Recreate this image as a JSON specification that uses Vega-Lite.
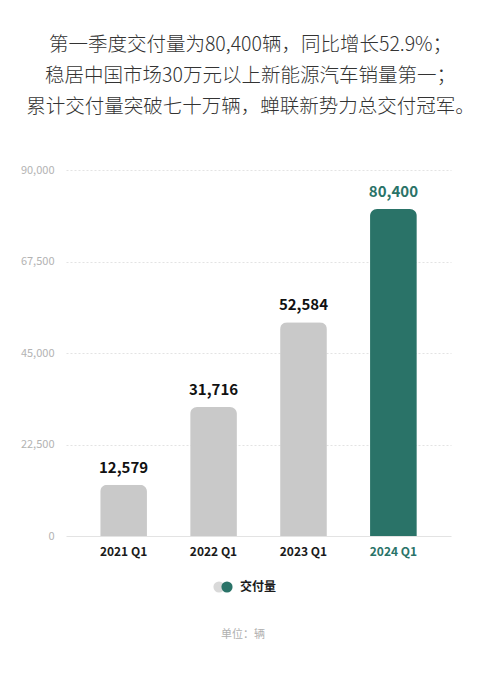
{
  "$schema": "https://vega.github.io/schema/vega-lite/v6.json",
  "width": 385,
  "height": 366,
  "padding": {"left": 20, "top": 34, "right": 27, "bottom": 20},
  "background": "white",
  "config": {
    "font": "Noto Sans CJK SC",
    "view": {"stroke": null}
  },
  "title": {
    "text": ["第一季度交付量为80,400辆，同比增长52.9%；", "稳居中国市场30万元以上新能源汽车销量第一；", "累计交付量突破七十万辆，蝉联新势力总交付冠军。"],
    "fontSize": 19.5,
    "fontWeight": 300,
    "lineHeight": 31,
    "color": "#333333",
    "anchor": "middle",
    "dx": -8,
    "offset": 47
  },
  "data": {
    "values": [
      {"quarter": "2021 Q1", "deliveries": 12579, "series": "交付量", "history": "往年"},
      {"quarter": "2022 Q1", "deliveries": 31716, "series": "交付量", "history": "往年"},
      {"quarter": "2023 Q1", "deliveries": 52584, "series": "交付量", "history": "往年"},
      {"quarter": "2024 Q1", "deliveries": 80400, "series": "交付量", "history": "往年"}
    ]
  },
  "encoding": {
    "x": {
      "field": "quarter",
      "type": "nominal",
      "sort": null,
      "scale": {"paddingInner": 0.48, "paddingOuter": 0.38},
      "axis": {
        "title": null,
        "domain": false,
        "ticks": false,
        "labelAngle": 0,
        "labelPadding": 10,
        "labelFontSize": 12,
        "labelFontWeight": "bold",
        "labelColor": {"condition": {"test": "datum.value === '2024 Q1'", "value": "#2a7368"}, "value": "#1a1a1a"}
      }
    },
    "y": {
      "field": "deliveries",
      "type": "quantitative",
      "scale": {"domain": [0, 90000]},
      "axis": {
        "title": null,
        "values": [0, 22500, 45000, 67500, 90000],
        "format": ",d",
        "domain": false,
        "ticks": false,
        "labelPadding": 12,
        "labelFontSize": 11,
        "labelColor": "#b3b3b3",
        "gridColor": "#e3e3e3",
        "gridDash": {"condition": {"test": "datum.value === 0", "value": []}, "value": [2, 2]},
        "gridWidth": 1
      }
    }
  },
  "resolve": {"scale": {"color": "independent"}, "legend": {"color": "independent"}},
  "layer": [
    {
      "mark": {"type": "bar", "cornerRadiusTopLeft": 7, "cornerRadiusTopRight": 7},
      "encoding": {
        "color": {"condition": {"test": "datum.quarter === '2024 Q1'", "value": "#2a7368"}, "value": "#c9c9c9"}
      }
    },
    {
      "mark": {"type": "text", "baseline": "bottom", "dy": -9, "fontSize": 15, "fontWeight": "bold"},
      "encoding": {
        "text": {"field": "deliveries", "type": "quantitative", "format": ","},
        "color": {"condition": {"test": "datum.quarter === '2024 Q1'", "value": "#2a7368"}, "value": "#111111"}
      }
    },
    {
      "mark": {"type": "point", "opacity": 0, "filled": true},
      "encoding": {
        "color": {
          "field": "history",
          "type": "nominal",
          "scale": {"domain": ["往年"], "range": ["#d9d9d9"]},
          "legend": {
            "orient": "none",
            "legendX": 147,
            "legendY": 411,
            "title": null,
            "labelExpr": "''",
            "labelFontSize": 12,
            "symbolType": "circle",
            "symbolSize": 125,
            "symbolOpacity": 1,
            "symbolStrokeWidth": 0
          }
        }
      }
    },
    {
      "mark": {"type": "point", "opacity": 0, "filled": true},
      "encoding": {
        "color": {
          "field": "series",
          "type": "nominal",
          "scale": {"domain": ["交付量"], "range": ["#2a7368"]},
          "legend": {
            "orient": "none",
            "legendX": 155,
            "legendY": 411,
            "title": "单位：辆",
            "titleOrient": "bottom",
            "titleAnchor": "start",
            "titlePadding": 36,
            "titleFontSize": 11,
            "titleFontWeight": "normal",
            "titleColor": "#b0b0b0",
            "labelFontSize": 12,
            "labelFontWeight": "bold",
            "labelColor": "#1a1a1a",
            "symbolType": "circle",
            "symbolSize": 125,
            "symbolOpacity": 1,
            "symbolStrokeWidth": 0,
            "labelOffset": 7
          }
        }
      }
    }
  ]
}
